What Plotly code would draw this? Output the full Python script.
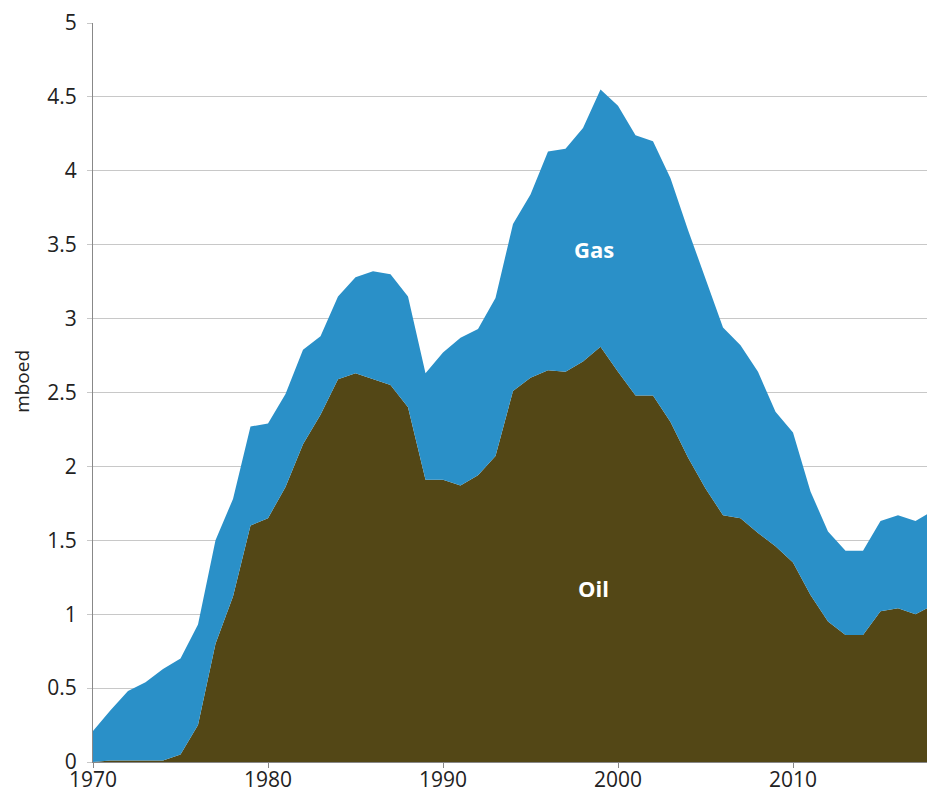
import plotly.graph_objects as go

years = list(range(1970, 2019))
oil = [0.0, 0.01, 0.01, 0.01, 0.01, 0.05, 0.25, 0.80, 1.12, 1.60,
       1.65, 1.86, 2.15, 2.35, 2.59, 2.63, 2.59, 2.55, 2.40, 1.91,
       1.91, 1.87, 1.94, 2.07, 2.51, 2.60, 2.65, 2.64, 2.71, 2.81,
       2.64, 2.48, 2.48, 2.30, 2.06, 1.85, 1.67, 1.65, 1.55, 1.46,
       1.35, 1.13, 0.95, 0.86, 0.86, 1.02, 1.04, 1.00, 1.06]
gas = [0.21, 0.34, 0.47, 0.53, 0.62, 0.65, 0.68, 0.70, 0.66, 0.67,
       0.64, 0.63, 0.64, 0.53, 0.56, 0.65, 0.73, 0.75, 0.75, 0.72,
       0.86, 1.00, 0.99, 1.07, 1.13, 1.24, 1.48, 1.51, 1.58, 1.74,
       1.80, 1.76, 1.72, 1.65, 1.54, 1.42, 1.27, 1.17, 1.09, 0.91,
       0.88, 0.70, 0.61, 0.57, 0.57, 0.61, 0.63, 0.63, 0.64]
y_ticks = [0, 0.5, 1, 1.5, 2, 2.5, 3, 3.5, 4, 4.5, 5]
y_tick_text = ["0", "0.5", "1", "1.5", "2", "2.5", "3", "3.5", "4", "4.5", "5"]
x_ticks = [1970, 1980, 1990, 2000, 2010]

OIL_C = "#534716"
GAS_C = "#2A90C8"
FONT = "Open Sans"

fig = go.Figure()
fig.add_trace(go.Scatter(x=years, y=oil, name="Oil", stackgroup="one",
                         mode="lines", line=dict(width=0, color=OIL_C),
                         fillcolor=OIL_C, hoverinfo="x+y"))
fig.add_trace(go.Scatter(x=years, y=gas, name="Gas", stackgroup="one",
                         mode="lines", line=dict(width=0, color=GAS_C),
                         fillcolor=GAS_C, hoverinfo="x+y"))

fig.add_annotation(x=1998.6, y=3.47, text="<b>Gas</b>", showarrow=False,
                   font=dict(family=FONT, size=22, color="white"))
fig.add_annotation(x=1998.6, y=1.18, text="<b>Oil</b>", showarrow=False,
                   font=dict(family=FONT, size=22, color="white"))
fig.add_annotation(xref="paper", yref="paper", x=-0.084, y=0.515,
                   xanchor="center", yanchor="middle",
                   text="mboed", textangle=-90, showarrow=False,
                   font=dict(family=FONT, size=19, color="#222222"))

fig.update_layout(
    width=927, height=783,
    margin=dict(l=85, r=2, t=15, b=29),
    paper_bgcolor="white", plot_bgcolor="white",
    showlegend=False,
    font=dict(family=FONT, color="#222222"),
    xaxis=dict(range=[1970, 2018], tickvals=x_ticks, showgrid=False,
               automargin=False,
               ticks="outside", ticklen=5, tickcolor="#888888",
               showline=True, linecolor="#888888", linewidth=1,
               ticklabelstandoff=-6,
               tickfont=dict(size=21, color="#222222"), zeroline=False),
    yaxis=dict(range=[0, 5], tickvals=y_ticks, ticktext=y_tick_text,
               automargin=False,
               showgrid=True, gridcolor="#C8C8C8", gridwidth=1,
               ticks="outside", ticklen=5, tickcolor="#C8C8C8",
               showline=True, linecolor="#888888", linewidth=1,
               ticklabelstandoff=6,
               tickfont=dict(size=21, color="#222222"), zeroline=False),
)

fig.write_html("out.html")
